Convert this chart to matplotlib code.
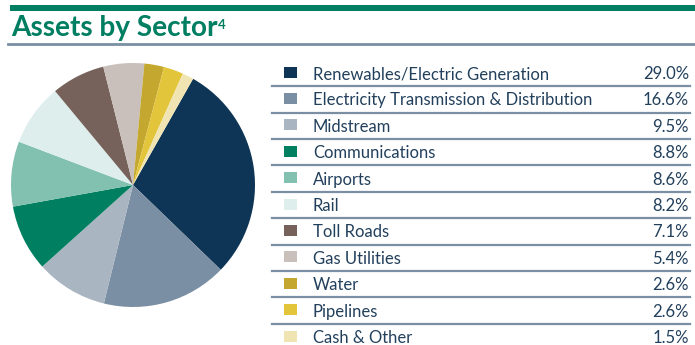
import matplotlib
matplotlib.use("Agg")
import matplotlib.pyplot as plt
from matplotlib.patches import Rectangle
from matplotlib.lines import Line2D

sectors = [
    "Renewables/Electric Generation",
    "Electricity Transmission & Distribution",
    "Midstream",
    "Communications",
    "Airports",
    "Rail",
    "Toll Roads",
    "Gas Utilities",
    "Water",
    "Pipelines",
    "Cash & Other",
]
weights = [29.0, 16.6, 9.5, 8.8, 8.6, 8.2, 7.1, 5.4, 2.6, 2.6, 1.5]
colors = [
    "#0F3556", "#7A8FA3", "#A9B5C1", "#008060", "#82C0B0", "#DEEEED",
    "#76625A", "#C9C0BC", "#C4A72E", "#E2C53B", "#F0E5B2",
]

W, H = 695, 345
GREEN = "#007E62"
RULE = "#7A8FA3"
TEXT = "#22405C"

fig = plt.figure(figsize=(W / 100, H / 100), dpi=100)


def fx(x):
    return x / W


def fy(y):
    return 1 - y / H


# header: green bar, title, grey rule
fig.add_artist(Rectangle((fx(10), fy(11)), fx(685), 6 / H, color=GREEN, lw=0,
                         transform=fig.transFigure))
title = fig.text(fx(11), fy(36), "Assets by Sector", color=GREEN, fontsize=20.2,
                 fontfamily="Lato", fontweight="bold", va="baseline", ha="left")
fig.canvas.draw()
bb = title.get_window_extent()
fig.text(bb.x1 / W, fy(29), "4", color=GREEN, fontsize=9.5,
         fontfamily="Lato", fontweight="bold", va="baseline", ha="left")
fig.add_artist(Line2D([fx(8), fx(695)], [fy(43.5), fy(43.5)], color=RULE, lw=2,
                      transform=fig.transFigure))

# pie
cx, cy, r = 133, 185, 122
ax = fig.add_axes([fx(cx - r), fy(cy + r), 2 * r / W, 2 * r / H])
ax.pie(weights, colors=colors, startangle=60.5, counterclock=False,
       radius=1, wedgeprops=dict(linewidth=0))
ax.set_xlim(-1, 1)
ax.set_ylim(-1, 1)
ax.set_aspect("auto")
ax.axis("off")

# legend table
row0, step = 72.5, 26.4
for i, (name, w, c) in enumerate(zip(sectors, weights, colors)):
    yc = row0 + i * step
    fig.add_artist(Rectangle((fx(284), fy(yc + 5)), 12.5 / W, 11 / H, color=c,
                             lw=0, transform=fig.transFigure))
    fig.text(fx(313), fy(yc), name, color=TEXT, fontsize=12,
             fontfamily="Lato", va="center_baseline", ha="left")
    fig.text(fx(689), fy(yc), f"{w:.1f}%", color=TEXT, fontsize=12,
             fontfamily="Lato", va="center_baseline", ha="right")
    if i < len(sectors) - 1:
        ly = yc + step / 2 + 0.5
        fig.add_artist(Line2D([fx(272), fx(690)], [fy(ly), fy(ly)], color=RULE,
                              lw=1.6, transform=fig.transFigure))

fig.savefig("out.png", dpi=100)
